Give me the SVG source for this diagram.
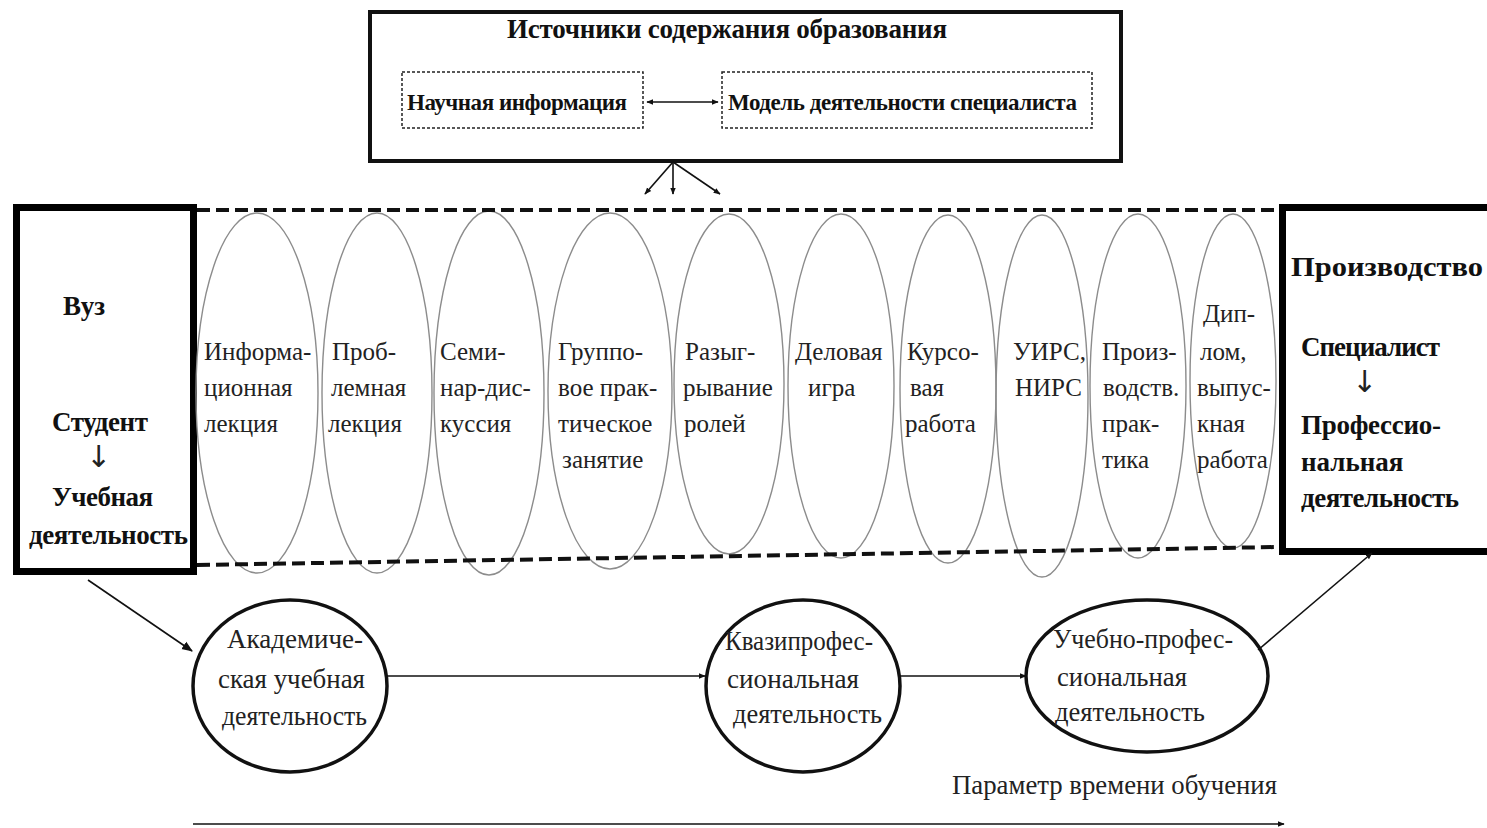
<svg xmlns="http://www.w3.org/2000/svg" width="1487" height="828" viewBox="0 0 1487 828">
<style>
.t{font-family:"Liberation Serif","Times New Roman",serif;font-size:25px;fill:#222}
.c{font-family:"Liberation Serif","Times New Roman",serif;font-size:27px;fill:#222}
.b{font-family:"Liberation Serif","Times New Roman",serif;font-size:27px;font-weight:bold;fill:#111}
.hb{font-family:"Liberation Serif","Times New Roman",serif;font-size:23px;font-weight:bold;fill:#111}
.arr{font-family:"DejaVu Sans",sans-serif;font-size:30px;fill:#222}
.ell{fill:none;stroke:#8c8c8c;stroke-width:1.4}
.circ{fill:#fff;stroke:#111;stroke-width:3.5}
.ln{stroke:#111;stroke-width:1.6;fill:none}
.dash{stroke:#111;stroke-width:4;stroke-dasharray:13 6;fill:none}
</style>
<defs>
<marker id="ah" viewBox="0 0 10 10" refX="9" refY="5" markerWidth="7" markerHeight="7" orient="auto-start-reverse" markerUnits="userSpaceOnUse">
<path d="M0,1 L10,5 L0,9 z" fill="#111"/>
</marker>
<marker id="ah2" viewBox="0 0 10 10" refX="9" refY="5" markerWidth="11" markerHeight="11" orient="auto-start-reverse" markerUnits="userSpaceOnUse">
<path d="M0,1 L10,5 L0,9 z" fill="#111"/>
</marker>
</defs>
<rect width="1487" height="828" fill="#fff"/>

<g id="sources">
<rect x="370" y="12" width="751" height="149" fill="#fff" stroke="#111" stroke-width="4"/>
<text class="b" x="507" y="38" font-size="25" textLength="440">Источники содержания образования</text>
</g>
<g id="science">
<rect x="402" y="72" width="241" height="56" fill="#fff" stroke="#222" stroke-width="1.5" stroke-dasharray="3 2"/>
<text class="hb" x="407" y="110" textLength="220">Научная информация</text>
</g>
<g id="model">
<rect x="722" y="72" width="370" height="56" fill="#fff" stroke="#222" stroke-width="1.5" stroke-dasharray="3 2"/>
<text class="hb" x="728" y="110" textLength="349">Модель деятельности специалиста</text>
</g>

<g id="vuz">
<rect x="16.5" y="207.5" width="177" height="364" fill="#fff" stroke="#000" stroke-width="7"/>
<text class="b" x="63" y="315" font-size="28">Вуз</text>
<text class="b" x="52" y="431" textLength="96">Студент</text>
<text class="arr" x="86" y="467">↓</text>
<text class="b" x="52" y="506" textLength="101">Учебная</text>
<text class="b" x="29" y="544" textLength="159">деятельность</text>
</g>

<g id="production">
<rect x="1282.5" y="207.5" width="215" height="344" fill="#fff" stroke="#000" stroke-width="7"/>
<text class="b" x="1291" y="276" font-size="30" textLength="192" lengthAdjust="spacingAndGlyphs">Производство</text>
<text class="b" x="1301" y="356" font-size="25" textLength="139">Специалист</text>
<text class="arr" x="1352" y="392">↓</text>
<text class="b" x="1301" y="434" textLength="140">Профессио-</text>
<text class="b" x="1301" y="471">нальная</text>
<text class="b" x="1301" y="507" textLength="158">деятельность</text>
</g>

<g id="forms">
<ellipse class="ell" cx="257" cy="393" rx="61" ry="180"/>
<ellipse class="ell" cx="377" cy="393" rx="55" ry="180"/>
<ellipse class="ell" cx="489" cy="393" rx="55" ry="182"/>
<ellipse class="ell" cx="610" cy="391" rx="62" ry="178"/>
<ellipse class="ell" cx="729" cy="384" rx="55" ry="170"/>
<ellipse class="ell" cx="841" cy="386" rx="53" ry="172"/>
<ellipse class="ell" cx="948" cy="389" rx="48" ry="174"/>
<ellipse class="ell" cx="1042" cy="396" rx="46" ry="181"/>
<ellipse class="ell" cx="1138" cy="386" rx="48" ry="172"/>
<ellipse class="ell" cx="1233" cy="381" rx="43" ry="167"/>
</g>

<g id="f1"><text class="t" x="204" y="360">Информа-</text><text class="t" x="204" y="396">ционная</text><text class="t" x="204" y="432">лекция</text></g>
<g id="f2"><text class="t" x="332" y="360">Проб-</text><text class="t" x="331" y="396">лемная</text><text class="t" x="328" y="432">лекция</text></g>
<g id="f3"><text class="t" x="440" y="360">Семи-</text><text class="t" x="440" y="396">нар-дис-</text><text class="t" x="440" y="432">куссия</text></g>
<g id="f4"><text class="t" x="558" y="360">Группо-</text><text class="t" x="558" y="396">вое прак-</text><text class="t" x="558" y="432">тическое</text><text class="t" x="562" y="468">занятие</text></g>
<g id="f5"><text class="t" x="685" y="360">Разыг-</text><text class="t" x="683" y="396">рывание</text><text class="t" x="684" y="432">ролей</text></g>
<g id="f6"><text class="t" x="795" y="360">Деловая</text><text class="t" x="808" y="396">игра</text></g>
<g id="f7"><text class="t" x="907" y="360">Курсо-</text><text class="t" x="910" y="396">вая</text><text class="t" x="905" y="432">работа</text></g>
<g id="f8"><text class="t" x="1013" y="360">УИРС,</text><text class="t" x="1015" y="396">НИРС</text></g>
<g id="f9"><text class="t" x="1102" y="360">Произ-</text><text class="t" x="1103" y="396">водств.</text><text class="t" x="1102" y="432">прак-</text><text class="t" x="1102" y="468">тика</text></g>
<g id="f10"><text class="t" x="1203" y="322">Дип-</text><text class="t" x="1200" y="360">лом,</text><text class="t" x="1197" y="396">выпус-</text><text class="t" x="1197" y="432">кная</text><text class="t" x="1197" y="468">работа</text></g>

<g id="academic">
<ellipse class="circ" cx="290" cy="686" rx="97" ry="86"/>
<text class="c" x="227" y="648" textLength="136" lengthAdjust="spacingAndGlyphs">Академиче-</text>
<text class="c" x="218" y="688" textLength="147" lengthAdjust="spacingAndGlyphs">ская учебная</text>
<text class="c" x="222" y="725" textLength="145" lengthAdjust="spacingAndGlyphs">деятельность</text>
</g>
<g id="quasi">
<ellipse class="circ" cx="803" cy="686" rx="97" ry="86"/>
<text class="c" x="725" y="650" textLength="148" lengthAdjust="spacingAndGlyphs">Квазипрофес-</text>
<text class="c" x="727" y="688" textLength="132" lengthAdjust="spacingAndGlyphs">сиональная</text>
<text class="c" x="733" y="723" textLength="149" lengthAdjust="spacingAndGlyphs">деятельность</text>
</g>
<g id="edu-prof">
<ellipse class="circ" cx="1147" cy="676" rx="121" ry="76"/>
<text class="c" x="1053" y="648" textLength="180" lengthAdjust="spacingAndGlyphs">Учебно-профес-</text>
<text class="c" x="1057" y="686" textLength="130" lengthAdjust="spacingAndGlyphs">сиональная</text>
<text class="c" x="1055" y="721" textLength="150" lengthAdjust="spacingAndGlyphs">деятельность</text>
</g>
<g id="time-label">
<text class="c" x="952" y="794" textLength="325" lengthAdjust="spacingAndGlyphs">Параметр времени обучения</text>
</g>

<g id="connectors">
<line class="dash" x1="197" y1="210" x2="1279" y2="210"/>
<line class="dash" x1="197" y1="565" x2="1279" y2="547"/>
<line class="ln" x1="647" y1="102" x2="718" y2="102" marker-start="url(#ah)" marker-end="url(#ah)"/>
<line class="ln" x1="673" y1="162" x2="645" y2="194" marker-end="url(#ah)"/>
<line class="ln" x1="673" y1="162" x2="673" y2="194" marker-end="url(#ah)"/>
<line class="ln" x1="673" y1="162" x2="720" y2="194" marker-end="url(#ah)"/>
<line class="ln" x1="88" y1="580" x2="192" y2="651" marker-end="url(#ah2)"/>
<line class="ln" x1="387" y1="676" x2="705" y2="676" stroke="#333" stroke-width="2" marker-end="url(#ah)"/>
<line class="ln" x1="900" y1="676" x2="1026" y2="676" stroke="#333" stroke-width="2" marker-end="url(#ah)"/>
<line class="ln" x1="1258" y1="650" x2="1372" y2="553" marker-end="url(#ah)"/>
<line class="ln" x1="193" y1="824" x2="1284" y2="824" stroke="#555" stroke-width="3.5" marker-end="url(#ah)"/>
</g>
</svg>
